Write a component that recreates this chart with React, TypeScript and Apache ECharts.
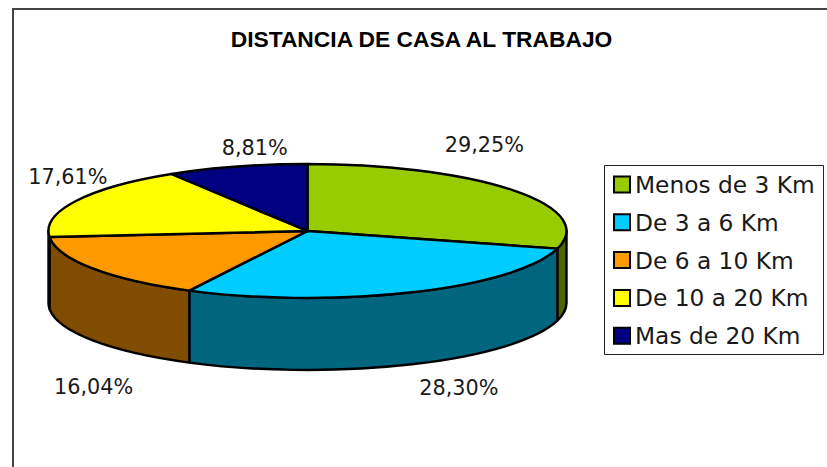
import React, { useEffect, useRef } from "react";
import * as echarts from "echarts";

const titleText = "DISTANCIA DE CASA AL TRABAJO";
const categories = ["Menos de 3 Km", "De 3 a 6 Km", "De 6 a 10 Km", "De 10 a 20 Km", "Mas de 20 Km"];
const shares = [29.25, 28.3, 16.04, 17.61, 8.81];
const topColors = ["#99CC00", "#00CCFF", "#FF9900", "#FFFF00", "#000080"];
const sideColors = ["#4D6600", "#006680", "#804D00", "#808000", "#000040"];
const labelOffsets = [[-29, -45], [47, 96], [1, 119], [-8, -24], [18, -19]];

const CX = 307.5, CY = 231, RX = 259, RY = 67, DEPTH = 72;
const FONT = "'DejaVu Sans'";
const total = shares.reduce((a, b) => a + b, 0);
const startShare = shares.map((_, i) => shares.slice(0, i).reduce((a, b) => a + b, 0));
const px = (deg: number) => CX + RX * Math.sin((deg * Math.PI) / 180);
const py = (deg: number) => CY - RY * Math.cos((deg * Math.PI) / 180);

const makeRender = (index: number) => (_params: any, api: any) => {
  const value = api.value(0);
  const t0 = (startShare[index] / total) * 360;
  const t1 = t0 + (value / total) * 360;
  const large = t1 - t0 > 180 ? 1 : 0;
  const children: any[] = [];
  const a = Math.max(t0, 90), b = Math.min(t1, 270);
  if (b > a) {
    const d =
      `M${px(a)} ${py(a)} A${RX} ${RY} 0 0 1 ${px(b)} ${py(b)} ` +
      `L${px(b)} ${py(b) + DEPTH} A${RX} ${RY} 0 0 0 ${px(a)} ${py(a) + DEPTH} Z`;
    children.push({
      type: "path",
      shape: { pathData: d },
      style: { fill: sideColors[index], stroke: "#000", lineWidth: 2.4, lineJoin: "round" },
    });
  }
  children.push({
    type: "path",
    shape: { pathData: `M${CX} ${CY} L${px(t0)} ${py(t0)} A${RX} ${RY} 0 ${large} 1 ${px(t1)} ${py(t1)} Z` },
    style: { fill: topColors[index], stroke: "#000", lineWidth: 2.4, lineJoin: "round" },
  });
  const mid = (t0 + t1) / 2;
  children.push({
    type: "text",
    style: {
      text: value.toFixed(2).replace(".", ",") + "%",
      x: px(mid) + labelOffsets[index][0],
      y: py(mid) + labelOffsets[index][1],
      textAlign: "center",
      textVerticalAlign: "middle",
      fontFamily: FONT,
      fontSize: 20.8,
      fill: "#1a1a1a",
    },
  });
  return { type: "group", children };
};

export default function App() {
  const ref = useRef<HTMLDivElement>(null);
  useEffect(() => {
    document.body.style.margin = "0";
    const chart = echarts.init(ref.current!, undefined, { renderer: "svg" });
    chart.setOption({
      animation: false,
      backgroundColor: "#ffffff",
      title: {
        text: titleText,
        left: 416.5,
        top: 22.5,
        textAlign: "center",
        textStyle: { fontFamily: "'Liberation Sans'", fontWeight: "bold", fontSize: 22.8, color: "#000" },
      },
      graphic: [
        { type: "rect", shape: { x: 13, y: 9, width: 900, height: 600 }, style: { fill: "none", stroke: "#444", lineWidth: 2 }, silent: true },
        { type: "rect", shape: { x: 604.5, y: 165.5, width: 219, height: 189 }, style: { fill: "#fff", stroke: "#222", lineWidth: 1 }, silent: true },
      ],
      legend: {
        data: categories,
        orient: "vertical",
        left: 613,
        top: 173,
        padding: 0,
        itemWidth: 16,
        itemHeight: 16,
        itemGap: 14.8,
        icon: "rect",
        selectedMode: false,
        z: 10,
        textStyle: { fontFamily: FONT, fontSize: 23.3, color: "#1a1a1a", lineHeight: 16 },
      },
      series: categories.map((name, i) => ({
        type: "custom",
        name,
        coordinateSystem: "none",
        data: [[shares[i]]],
        itemStyle: { color: topColors[i], borderColor: "#000", borderWidth: 2 },
        renderItem: makeRender(i),
        silent: true,
      })),
    });
    return () => chart.dispose();
  }, []);
  return <div ref={ref} style={{ width: 827, height: 467 }} />;
}
